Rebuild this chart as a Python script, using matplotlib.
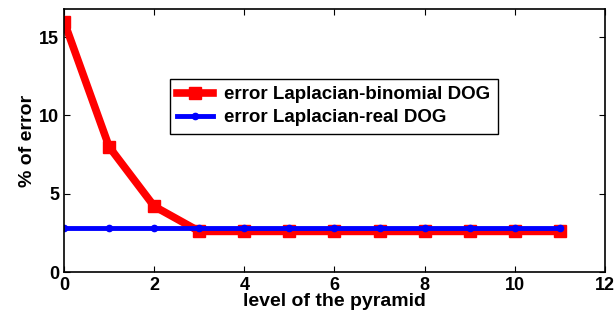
import numpy as np
import matplotlib.pyplot as plt

plt.rcParams['font.family'] = 'Liberation Sans'
plt.rcParams['font.weight'] = 'bold'

levels = np.arange(12)
err_binomial = [16.0, 8.0, 4.2, 2.6, 2.6, 2.6, 2.6, 2.6, 2.6, 2.6, 2.6, 2.6]
err_real = [2.8, 2.8, 2.8, 2.8, 2.8, 2.8, 2.8, 2.8, 2.8, 2.8, 2.8, 2.8]

fig = plt.figure(figsize=(6.16, 3.22), dpi=100)
ax = fig.add_axes([0.104, 0.155, 0.878, 0.817])

ax.plot(levels, err_binomial, color='red', lw=5.5, marker='s', ms=9,
        label="error Laplacian-binomial DOG")
ax.plot(levels, err_real, color='blue', lw=3.5, marker='o', ms=4.5,
        label="error Laplacian-real DOG")

ax.set_xlim(0, 12)
ax.set_ylim(0, 16.8)
ax.set_xticks([0, 2, 4, 6, 8, 10, 12])
ax.set_yticks([0, 5, 10, 15])
ax.tick_params(direction='in', top=True, right=True, labelsize=13, length=4)
for s in ax.spines.values():
    s.set_linewidth(1.2)

ax.set_xlabel("level of the pyramid", fontsize=14, fontweight='bold', labelpad=-1)
ax.set_ylabel("% of error", fontsize=14, fontweight='bold', labelpad=2)

leg = ax.legend(loc='upper left', bbox_to_anchor=(0.195, 0.735), fontsize=13.5,
                fancybox=False, edgecolor='black', framealpha=1,
                handlelength=1.9, handletextpad=0.6, borderpad=0.4,
                labelspacing=0.3, borderaxespad=0)
leg.get_frame().set_linewidth(1.0)

plt.savefig("out.png")
